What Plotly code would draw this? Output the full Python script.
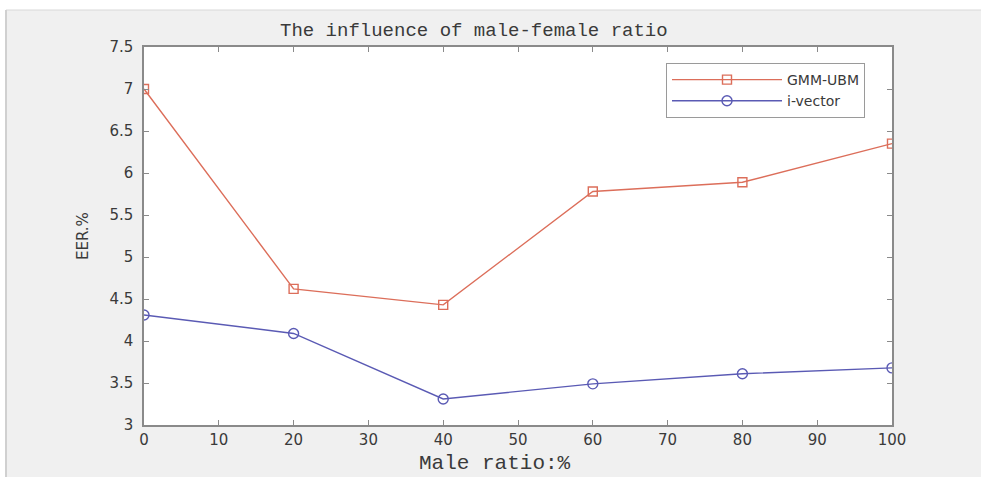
import plotly.graph_objects as go

male_ratio = [0, 20, 40, 60, 80, 100]
gmm_ubm = [7.00, 4.62, 4.43, 5.78, 5.89, 6.35]
i_vector = [4.31, 4.09, 3.31, 3.49, 3.61, 3.68]
x_ticks = list(range(0, 101, 10))
y_ticks = [3, 3.5, 4, 4.5, 5, 5.5, 6, 6.5, 7, 7.5]
y_tick_text = ["3", "3.5", "4", "4.5", "5", "5.5", "6", "6.5", "7", "7.5"]

W, H = 981, 477
L, R, T, B = 144, 89, 47, 52
pw, ph = W - L - R, H - T - B

def px(xp):
    return (xp - L) / pw

def py(yp):
    return (H - B - yp) / ph

fig = go.Figure()
fig.add_trace(go.Scatter(
    x=male_ratio, y=gmm_ubm, name="GMM-UBM", mode="lines+markers",
    line=dict(color="#dc6e5a", width=1.4),
    marker=dict(symbol="square-open", size=9, color="#dc6e5a", line=dict(width=1.4)),
))
fig.add_trace(go.Scatter(
    x=male_ratio, y=i_vector, name="i-vector", mode="lines+markers",
    line=dict(color="#5a5ab4", width=1.4),
    marker=dict(symbol="circle-open", size=10, color="#5a5ab4", line=dict(width=1.4)),
))

axis_common = dict(
    showgrid=False, zeroline=False, showline=True, linecolor="#8a8a8a", linewidth=1.5,
    mirror="ticks", ticks="inside", ticklen=5, tickcolor="#8a8a8a", tickwidth=1,
    tickfont=dict(family="DejaVu Sans", size=15, color="#3a3a3a"),
)
fig.update_xaxes(range=[0, 100], tickvals=x_ticks, **axis_common)
fig.update_yaxes(range=[3, 7.5], tickvals=y_ticks, ticktext=y_tick_text,
                 ticklabelstandoff=6, **axis_common)

fig.update_layout(
    width=W, height=H, margin=dict(l=L, r=R, t=T, b=B, autoexpand=False),
    paper_bgcolor="#f0f0f0", plot_bgcolor="white",
    showlegend=True,
    legend=dict(
        x=px(865), y=py(63), xanchor="right", yanchor="top",
        bgcolor="white", bordercolor="#9a9a9a", borderwidth=1,
        font=dict(family="DejaVu Sans", size=14, color="#3a3a3a"),
        tracegroupgap=0, itemwidth=110,
    ),
    annotations=[
        dict(text="The influence of male-female ratio", x=px(474), y=py(31),
             xref="paper", yref="paper", showarrow=False, xanchor="center", yanchor="middle",
             font=dict(family="Liberation Mono", size=19, color="#3a3a3a")),
        dict(text="Male ratio:%", x=px(495), y=py(463),
             xref="paper", yref="paper", showarrow=False, xanchor="center", yanchor="middle",
             font=dict(family="Liberation Mono", size=21, color="#3a3a3a")),
        dict(text="EER.%", x=px(83), y=py(236), textangle=-90,
             xref="paper", yref="paper", showarrow=False, xanchor="center", yanchor="middle",
             font=dict(family="DejaVu Sans", size=15, color="#3a3a3a")),
    ],
    shapes=[
        dict(type="rect", xref="paper", yref="paper", x0=px(0), x1=px(W), y0=py(10), y1=py(0),
             fillcolor="white", line=dict(width=0), layer="below"),
        dict(type="rect", xref="paper", yref="paper", x0=px(0), x1=px(6), y0=py(H), y1=py(0),
             fillcolor="white", line=dict(width=0), layer="below"),
        dict(type="line", xref="paper", yref="paper", x0=px(6), x1=px(W), y0=py(10), y1=py(10),
             line=dict(color="#d8d8d8", width=1)),
        dict(type="line", xref="paper", yref="paper", x0=px(6), x1=px(6), y0=py(10), y1=py(H),
             line=dict(color="#d0d0d0", width=2)),
    ],
)

fig.write_html("out.html")
